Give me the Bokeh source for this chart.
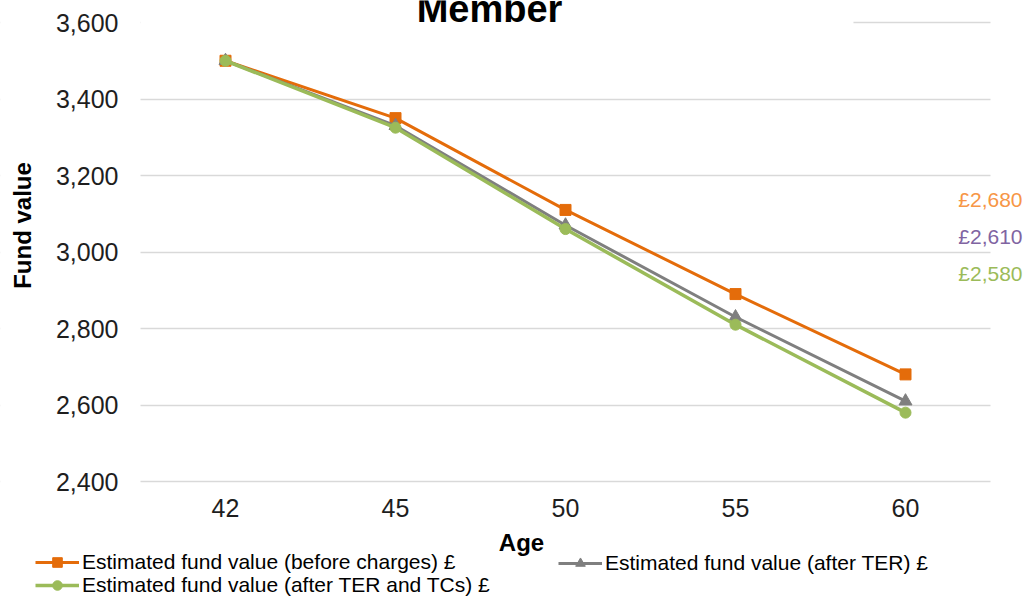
import math
from bokeh.plotting import figure
from bokeh.models import (Range1d, FixedTicker, Label, Legend, LegendItem,
                          BoxAnnotation, NumeralTickFormatter)
from bokeh.embed import file_html
from bokeh.resources import INLINE

# Projected fund values by age
ages = ["42", "45", "50", "55", "60"]
before_charges = [3500, 3350, 3110, 2890, 2680]
after_ter = [3500, 3330, 3070, 2830, 2610]
after_ter_tcs = [3500, 3325, 3060, 2810, 2580]
y_ticks = [2400, 2600, 2800, 3000, 3200, 3400, 3600]

series_names = ["Estimated fund value (before charges) £",
                "Estimated fund value (after TER) £",
                "Estimated fund value (after TER and TCs) £"]

FONT = "Liberation Sans"
ORANGE = "#E46C0A"
GREY = "#7F7F7F"
GREEN = "#9BBB59"
GRID = "#D9D9D9"

W, H = 1026, 600
# plotting area: 140..990 px across, 22..481 px down
PX_PER_CAT = 170.0
PX_PER_VAL = 459.0 / 1200.0
x0 = 225.0
x_start = -x0 / PX_PER_CAT
x_end = (W - x0) / PX_PER_CAT
y_end = 3600 + 22 / PX_PER_VAL
y_start = 2400 - (H - 481) / PX_PER_VAL

xs = list(range(len(ages)))

p = figure(width=W, height=H, output_backend="svg", toolbar_location=None,
           x_range=Range1d(x_start, x_end), y_range=Range1d(y_start, y_end),
           min_border=0)
p.outline_line_color = None
p.background_fill_color = "white"

# axes sit inside the drawing area
p.xaxis.fixed_location = 2400
p.yaxis.fixed_location = -0.5
p.xaxis.ticker = FixedTicker(ticks=xs)
p.xaxis.major_label_overrides = {i: a for i, a in enumerate(ages)}
p.yaxis.ticker = FixedTicker(ticks=y_ticks)
p.yaxis.formatter = NumeralTickFormatter(format="0,0")
for ax in (p.xaxis[0], p.yaxis[0]):
    ax.axis_line_color = None
    ax.major_tick_line_color = None
    ax.minor_tick_line_color = None
    ax.major_tick_in = 0
    ax.major_tick_out = 0
    ax.minor_tick_in = 0
    ax.minor_tick_out = 0
    ax.major_label_text_font = FONT
    ax.major_label_text_font_size = "25px"
    ax.major_label_text_color = "#1e1e1e"
p.xaxis.major_label_standoff = 17
p.yaxis.major_label_standoff = 22

p.xgrid.grid_line_color = None
p.ygrid.ticker = FixedTicker(ticks=y_ticks)
p.ygrid.grid_line_color = GRID
p.ygrid.grid_line_width = 1.5

# keep gridlines within the plotting area; title panel hides the top one
for kw in (dict(right=-0.5), dict(left=4.5),
           dict(left=-0.5, right=3.694, bottom=3588, top=3615)):
    p.add_layout(BoxAnnotation(fill_color="white", fill_alpha=1,
                               line_color=None, level="underlay", **kw))

r1 = p.line(xs, before_charges, line_color=ORANGE, line_width=3)
m1 = p.scatter(xs, before_charges, marker="square", size=11,
               fill_color=ORANGE, line_color=ORANGE)
r2 = p.line(xs, after_ter, line_color=GREY, line_width=3)
m2 = p.scatter(xs, after_ter, marker="triangle", size=13,
               fill_color=GREY, line_color=GREY)
r3 = p.line(xs, after_ter_tcs, line_color=GREEN, line_width=3.5)
m3 = p.scatter(xs, after_ter_tcs, marker="circle", size=11,
               fill_color=GREEN, line_color=GREEN)

# legend rows under the chart
def add_legend(label, renderers, left, centre_y):
    p.add_layout(Legend(
        items=[LegendItem(label=label, renderers=renderers)],
        location=(left, H - centre_y - 12), orientation="vertical",
        label_text_font=FONT, label_text_font_size="21px",
        label_text_color="black", glyph_width=44, glyph_height=24,
        label_height=24, label_standoff=3, spacing=0, padding=0, margin=0,
        border_line_color=None, background_fill_alpha=0))

add_legend(series_names[0], [r1, m1], 35, 562)
add_legend(series_names[1], [r2, m2], 558, 562.5)
add_legend(series_names[2], [r3, m3], 35, 585)

# titles
p.add_layout(Label(x=489, y=H - 8, x_units="screen", y_units="screen",
                   text="Member", text_font=FONT, text_font_size="38px",
                   text_font_style="bold", text_color="black",
                   text_align="center", text_baseline="alphabetic"))
p.add_layout(Label(x=521, y=H - 542, x_units="screen", y_units="screen",
                   text="Age", text_font=FONT, text_font_size="24px",
                   text_font_style="bold", text_color="black",
                   text_align="center", text_baseline="alphabetic"))
p.add_layout(Label(x=22, y=H - 225, x_units="screen", y_units="screen",
                   angle=math.pi / 2, text="Fund value", text_font=FONT,
                   text_font_size="24px", text_font_style="bold",
                   text_color="black", text_align="center",
                   text_baseline="alphabetic"))

# final values at age 60
label_colors = ["#F79646", "#8064A2", GREEN]
finals = [before_charges[-1], after_ter[-1], after_ter_tcs[-1]]
for i, (v, c) in enumerate(zip(finals, label_colors)):
    p.add_layout(Label(x=1022, y=H - (199 + 37 * i), x_units="screen",
                       y_units="screen", text="£{:,}".format(v),
                       text_font=FONT, text_font_size="21px", text_color=c,
                       text_align="right", text_baseline="middle"))

open("out.html", "w").write(file_html(p, INLINE))
